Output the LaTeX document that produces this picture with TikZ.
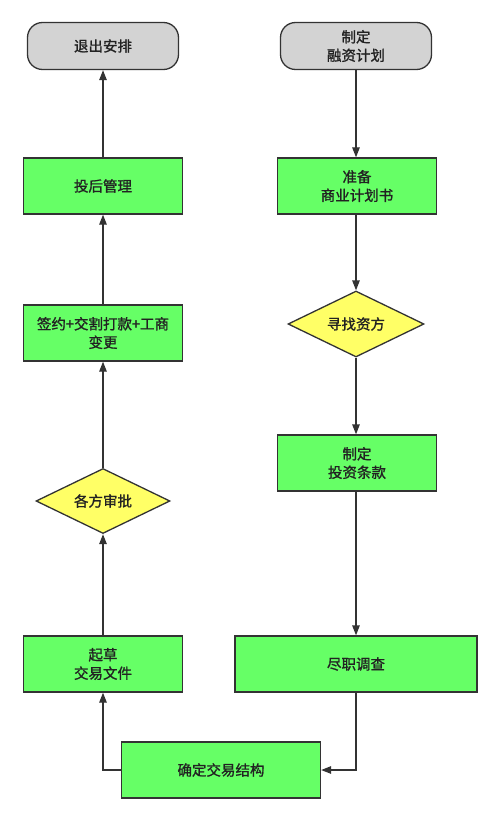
\documentclass[tikz,border=0pt]{standalone}
\usepackage{fontspec}
\setmainfont{Noto Sans CJK SC}[FakeBold=1.2]
\usetikzlibrary{arrows.meta,shapes.geometric}
\definecolor{linegray}{HTML}{333333}
\definecolor{textgray}{HTML}{222222}
\definecolor{termgray}{HTML}{D3D3D3}
\definecolor{boxgreen}{HTML}{66FF66}
\definecolor{diayellow}{HTML}{FFFF66}
\tikzset{
  flow/.style={draw=linegray,line width=1.3pt,text=textgray,align=center,
    font=\fontsize{14.5}{18.5}\selectfont,inner sep=0pt},
  term/.style={flow,fill=termgray,rounded corners=15pt,minimum width=151pt,minimum height=47pt},
  stepbox/.style={flow,fill=boxgreen,minimum width=159pt,minimum height=56pt},
  choice/.style={flow,fill=diayellow,diamond,aspect=2.05,minimum width=136pt,minimum height=66pt},
  link/.style={draw=linegray,line width=1.3pt,-{Triangle[length=10pt,width=7.5pt]}}
}
\begin{document}
\begin{tikzpicture}[x=1pt,y=-1pt]
  \useasboundingbox (0,0) rectangle (500,821);
  % right column
  \node[term] (plan) at (356,46) {制定\\融资计划};
  \node[stepbox] (bp) at (357,186) {准备\\商业计划书};
  \node[choice] (seek) at (356,324) {寻找资方};
  \node[stepbox] (terms) at (357,463) {制定\\投资条款};
  \node[stepbox,minimum width=242pt] (dd) at (356,664) {尽职调查};
  % bottom
  \node[stepbox,minimum width=199pt] (struct) at (221,770) {确定交易结构};
  % left column
  \node[stepbox] (draft) at (103,664) {起草\\交易文件};
  \node[choice,minimum width=134pt,minimum height=65pt] (approve) at (103,501) {各方审批};
  \node[stepbox] (sign) at (103,333) {签约+交割打款+工商\\变更};
  \node[stepbox] (post) at (103,186) {投后管理};
  \node[term] (exit) at (103,46) {退出安排};

  \draw[link] (plan) -- (plan|-bp.north);
  \draw[link] (bp.south-|seek) -- (seek.north);
  \draw[link] (seek.south) -- (seek|-terms.north);
  \draw[link] (terms.south-|dd) -- (dd.north);
  \draw[link] (dd.south) |- (struct.east);
  \draw[link] (struct.west) -| (draft.south);
  \draw[link] (draft) -- (approve);
  \draw[link] (approve) -- (sign);
  \draw[link] (sign) -- (post);
  \draw[link] (post) -- (exit);
\end{tikzpicture}
\end{document}
